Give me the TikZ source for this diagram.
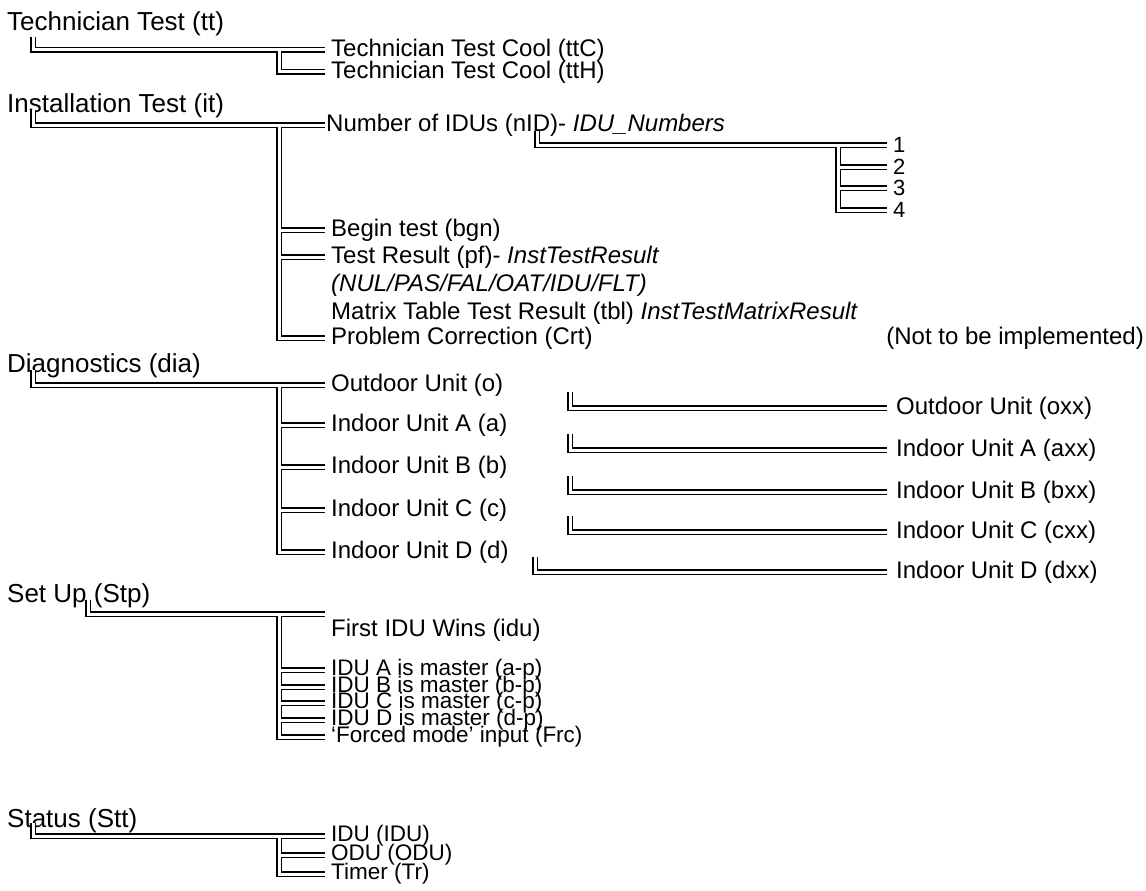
\documentclass[tikz,border=0pt]{standalone}
\usepackage{fontspec}
\setmainfont{Liberation Sans}
\usepackage{tikz}
\usetikzlibrary{positioning}
\definecolor{treeline}{RGB}{0, 0, 0}
\newcommand{\setpx}[1]{\fontsize{#1}{#1}\selectfont}
\tikzset{
  topitem/.style={anchor=base west, inner sep=0pt, font=\setpx{26}},
  subitem/.style={anchor=west, inner xsep=6pt, inner ysep=0pt, font=\setpx{24}},
  smallitem/.style={subitem, font=\setpx{22.5}},
  digit/.style={subitem, font=\setpx{22}},
  note/.style={anchor=east, inner sep=2pt, font=\setpx{24}},
  link/.style={draw=treeline, line width=1.3pt, double=white, double distance=3pt}
}

\begin{document}
\begin{tikzpicture}[x=1pt, y=-1pt]
\useasboundingbox (0,0) rectangle (1146,891);

% Technician Test
\node[topitem] (tt) at (7,31) {Technician Test (tt)};
\node[subitem] (ttC) at (325,50) {Technician Test Cool (ttC)};
\node[subitem] (ttH) at (325,72) {Technician Test Cool (ttH)};
\coordinate (tt-fork) at (279,50);
\draw[link] ([xshift=26pt,yshift=-6pt]tt.base west) |- (tt-fork) -- (ttC.west)
  (tt-fork) |- (ttH.west);

% Installation Test
\node[topitem] (it) at (7,112) {Installation Test (it)};
\node[subitem, inner xsep=1pt] (nid) at (325,125) {Number of IDUs (nID)- \textit{IDU\_Numbers}};
\node[subitem] (bgn) at (325,230) {Begin test (bgn)};
\node[subitem] (pf) at (325,257) {Test Result (pf)- \textit{InstTestResult}};
\node[subitem] (pfvals) at (325,285) {\textit{(NUL/PAS/FAL/OAT/IDU/FLT)}};
\node[subitem] (tbl) at (325,313) {Matrix Table Test Result (tbl) \textit{InstTestMatrixResult}};
\node[subitem] (crt) at (325,338) {Problem Correction (Crt)};
\node[note] (crtnote) at (1146,338) {(Not to be implemented)};
\coordinate (it-fork) at (279,125);
\draw[link] ([xshift=26pt,yshift=2pt]it.base west) |- (it-fork) -- (nid.west)
  (it-fork) |- (bgn.west) (it-fork) |- (pf.west) (it-fork) |- (crt.west);

% IDU numbers
\node[digit] (n1) at (887,145) {1};
\node[digit] (n2) at (887,167) {2};
\node[digit] (n3) at (887,188) {3};
\node[digit] (n4) at (887,210) {4};
\coordinate (nid-fork) at (838,145);
\draw[link] ([xshift=212pt]nid.base west) |- (nid-fork) -- (n1.west)
  (nid-fork) |- (n2.west) (nid-fork) |- (n3.west) (nid-fork) |- (n4.west);

% Diagnostics
\node[topitem] (dia) at (7,372) {Diagnostics (dia)};
\node[subitem] (o) at (325,385) {Outdoor Unit (o)};
\node[subitem] (a) at (325,425) {Indoor Unit A (a)};
\node[subitem] (b) at (325,467) {Indoor Unit B (b)};
\node[subitem] (c) at (325,510) {Indoor Unit C (c)};
\node[subitem] (d) at (325,552) {Indoor Unit D (d)};
\coordinate (dia-fork) at (279,385);
\draw[link] ([xshift=26pt,yshift=2pt]dia.base west) |- (dia-fork) -- (o.west)
  (dia-fork) |- (a.west) (dia-fork) |- (b.west) (dia-fork) |- (c.west) (dia-fork) |- (d.west);

\node[subitem, inner xsep=9pt] (oxx) at (887,408) {Outdoor Unit (oxx)};
\node[subitem, inner xsep=9pt] (axx) at (887,450) {Indoor Unit A (axx)};
\node[subitem, inner xsep=9pt] (bxx) at (887,492) {Indoor Unit B (bxx)};
\node[subitem, inner xsep=9pt] (cxx) at (887,532) {Indoor Unit C (cxx)};
\node[subitem, inner xsep=9pt] (dxx) at (887,572) {Indoor Unit D (dxx)};
\coordinate (oxx-in) at (570,392);
\coordinate (axx-in) at (570,434);
\coordinate (bxx-in) at (570,476);
\coordinate (cxx-in) at (570,516);
\coordinate (dxx-in) at (535,557);
\draw[link] (oxx-in) |- (oxx.west);
\draw[link] (axx-in) |- (axx.west);
\draw[link] (bxx-in) |- (bxx.west);
\draw[link] (cxx-in) |- (cxx.west);
\draw[link] (dxx-in) |- (dxx.west);

% Set Up
\node[topitem] (stp) at (7,602) {Set Up (Stp)};
\node[subitem] (idu) at (325,630) {First IDU Wins (idu)};
\node[smallitem] (ap) at (325,670) {IDU A is master (a-p)};
\node[smallitem] (bp) at (325,687) {IDU B is master (b-p)};
\node[smallitem] (cp) at (325,703) {IDU C is master (c-p)};
\node[smallitem] (dp) at (325,720) {IDU D is master (d-p)};
\node[smallitem] (frc) at (325,737) {‘Forced mode’ input (Frc)};
\coordinate (stp-fork) at (279,614);
\draw[link] ([xshift=81pt,yshift=2pt]stp.base west) |- (stp-fork) -- (stp-fork -| idu.west)
  (stp-fork) |- (ap.west) (stp-fork) |- (bp.west) (stp-fork) |- (cp.west)
  (stp-fork) |- (dp.west) (stp-fork) |- (frc.west);

% Status
\node[topitem] (stt) at (7,827) {Status (Stt)};
\node[smallitem] (sidu) at (325,836) {IDU (IDU)};
\node[smallitem] (sodu) at (325,855) {ODU (ODU)};
\node[smallitem] (tr) at (325,874) {Timer (Tr)};
\coordinate (stt-fork) at (279,836);
\draw[link] ([xshift=26pt,yshift=4pt]stt.base west) |- (stt-fork) -- (sidu.west)
  (stt-fork) |- (sodu.west) (stt-fork) |- (tr.west);
\end{tikzpicture}
\end{document}
